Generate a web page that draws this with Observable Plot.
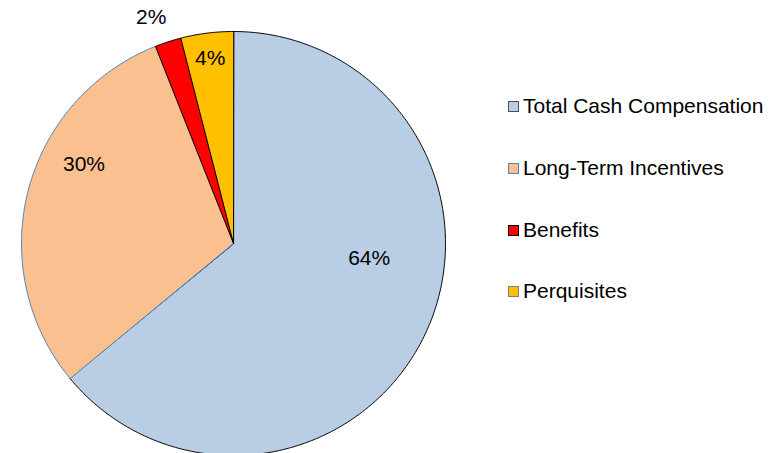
<!DOCTYPE html>
<html>
<head>
<meta charset="utf-8">
<script src="https://cdn.jsdelivr.net/npm/d3@7"></script>
<script src="https://cdn.jsdelivr.net/npm/@observablehq/plot@0.6"></script>
<style>
  html, body { margin: 0; padding: 0; background: #fff; }
  #wrap { position: relative; width: 777px; height: 453px; overflow: hidden; font-family: "Liberation Sans", Arial, sans-serif; }
  #legend { position: absolute; left: 508px; top: 0; }
  .item { position: absolute; left: 0; display: flex; align-items: center; white-space: nowrap; font-size: 21px; color: #000; transform: translateY(-50%); }
  .sw { width: 9px; height: 9px; border: 1px solid #000; margin-right: 4px; flex: none; }
</style>
</head>
<body>
<div id="wrap"><div id="legend"></div></div>
<script>
// ---- data ----
const categories = ["Total Cash Compensation", "Long-Term Incentives", "Benefits", "Perquisites"];
const values = [64, 30, 2, 4];
const labels = ["64%", "30%", "2%", "4%"];
// ---- styles ----
const fills = ["#B9CDE5", "#FAC090", "#FF0000", "#FFC000"];
const strokes = ["#000000", "#4F81BD", "#000000", "#000000"];
const swatchStrokes = ["#4D4D4D", "#4F81BD", "#000000", "#7F7F7F"];
const labelRadius = [0.65, 0.65, 1.12, 0.88];
const labelDx = [11, -16, -9, 0];
const labelDy = [-44, -45, 0, 0];
const legendY = [106, 168, 230, 291];

const total = d3.sum(values);
let acc = 0;
const slices = categories.map((c, i) => {
  const a0 = acc / total * 2 * Math.PI;
  acc += values[i];
  const a1 = acc / total * 2 * Math.PI;
  const pts = [{x: 0, y: 0}];
  const n = Math.max(2, Math.ceil((a1 - a0) / (Math.PI / 360)));
  for (let k = 0; k <= n; k++) {
    const a = a0 + (a1 - a0) * k / n;
    pts.push({x: Math.sin(a), y: Math.cos(a)});
  }
  const am = (a0 + a1) / 2;
  return {cat: c, i, pts, lx: labelRadius[i] * Math.sin(am), ly: labelRadius[i] * Math.cos(am)};
});

const marks = [];
slices.forEach(s => {
  marks.push(Plot.line(s.pts, {x: "x", y: "y", fill: fills[s.i], stroke: strokes[s.i], strokeWidth: 1, curve: "linear-closed"}));
});
slices.forEach(s => {
  marks.push(Plot.text([s], {x: "lx", y: "ly", text: () => labels[s.i], dx: labelDx[s.i], dy: labelDy[s.i], fontSize: 21, fill: "#000"}));
});

const chart = Plot.plot({
  width: 777,
  height: 453,
  margin: 0,
  style: {fontFamily: "Liberation Sans, Arial, sans-serif", background: "#fff", overflow: "hidden"},
  x: {domain: [-1, 1], range: [21, 445], axis: null},
  y: {domain: [-1, 1], range: [455, 31], axis: null},
  marks
});
const wrap = document.getElementById("wrap");
wrap.insertBefore(chart, wrap.firstChild);

const legend = document.getElementById("legend");
categories.forEach((c, i) => {
  const item = document.createElement("div");
  item.className = "item";
  item.style.top = legendY[i] + "px";
  const sw = document.createElement("span");
  sw.className = "sw";
  sw.style.background = fills[i];
  sw.style.borderColor = swatchStrokes[i];
  const t = document.createElement("span");
  t.textContent = c;
  item.appendChild(sw);
  item.appendChild(t);
  legend.appendChild(item);
});
</script>
</body>
</html>
